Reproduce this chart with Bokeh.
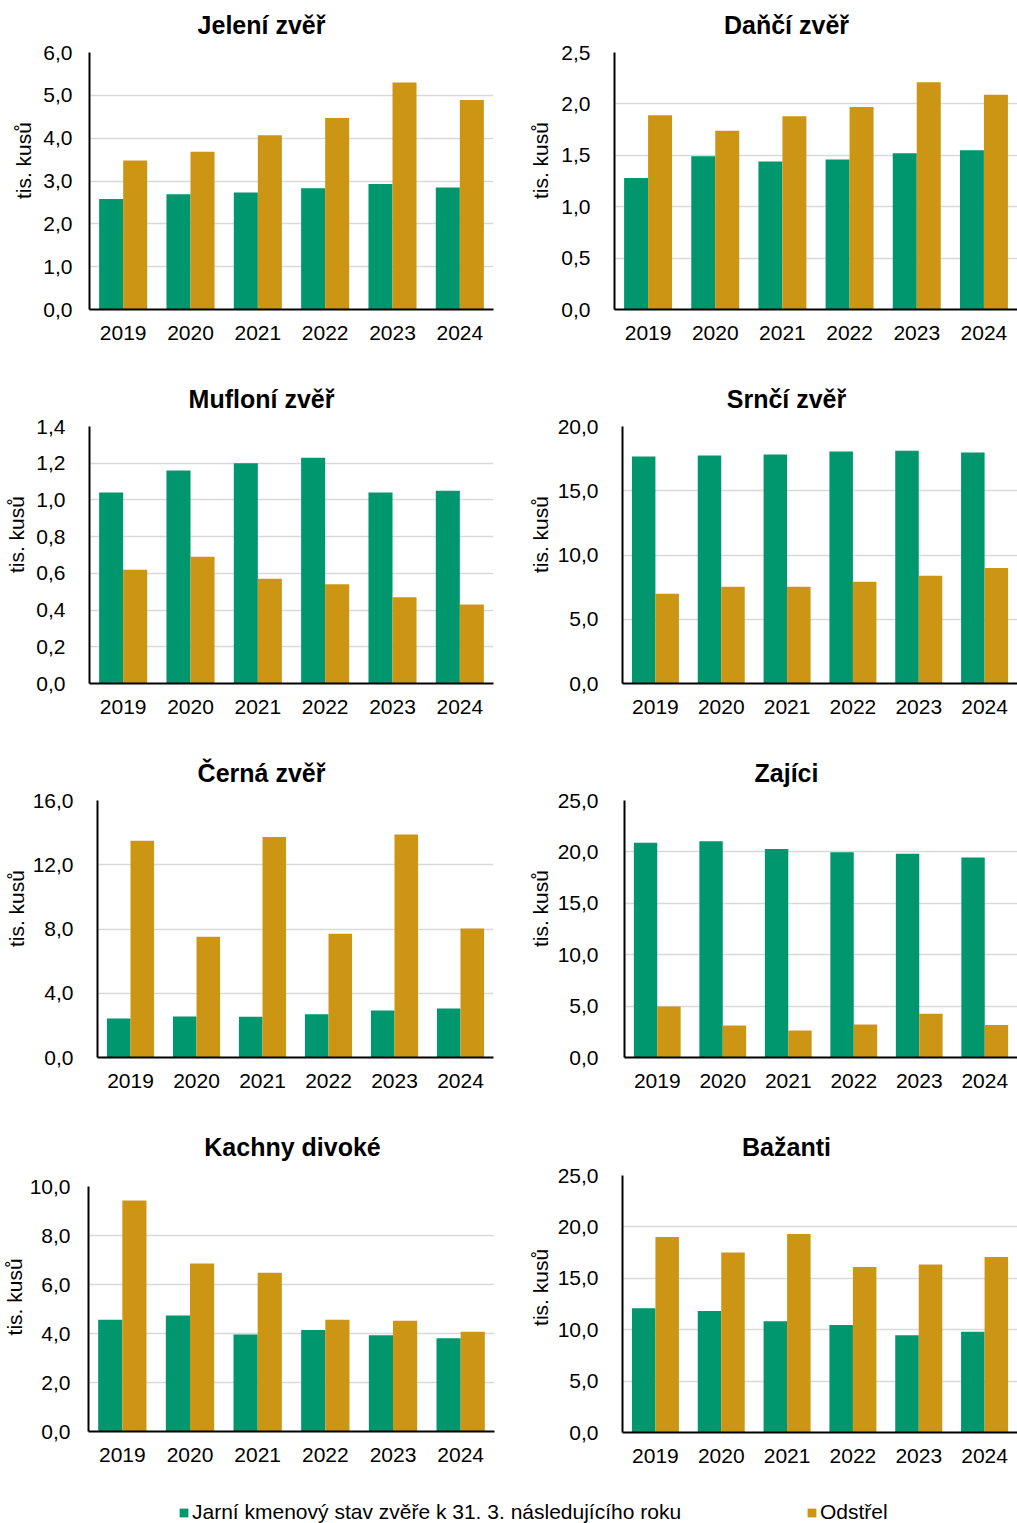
import math
from bokeh.plotting import figure
from bokeh.layouts import column, row
from bokeh.models import (ColumnDataSource, FactorRange, Range1d, FixedTicker,
                          CustomJSTickFormatter, Label, Legend, LegendItem)
from bokeh.transform import dodge
from bokeh.embed import file_html
from bokeh.resources import INLINE

# ---------------- data ----------------
years = ["2019", "2020", "2021", "2022", "2023", "2024"]
series_names = ["Jarní kmenový stav zvěře k 31. 3. následujícího roku", "Odstřel"]
y_title = "tis. kusů"

jeleni_stav = [2.58, 2.69, 2.73, 2.83, 2.93, 2.85]
jeleni_odstrel = [3.48, 3.68, 4.07, 4.47, 5.30, 4.89]
jeleni_ticks = [0, 1, 2, 3, 4, 5, 6]

danci_stav = [1.28, 1.49, 1.44, 1.46, 1.52, 1.55]
danci_odstrel = [1.89, 1.74, 1.88, 1.97, 2.21, 2.09]
danci_ticks = [0, 0.5, 1.0, 1.5, 2.0, 2.5]

mufloni_stav = [1.04, 1.16, 1.20, 1.23, 1.04, 1.05]
mufloni_odstrel = [0.62, 0.69, 0.57, 0.54, 0.47, 0.43]
mufloni_ticks = [0, 0.2, 0.4, 0.6, 0.8, 1.0, 1.2, 1.4]

srnci_stav = [17.67, 17.74, 17.82, 18.05, 18.11, 17.98]
srnci_odstrel = [6.98, 7.52, 7.52, 7.91, 8.38, 8.98]
srnci_ticks = [0, 5, 10, 15, 20]

cerna_stav = [2.43, 2.55, 2.53, 2.70, 2.93, 3.05]
cerna_odstrel = [13.49, 7.51, 13.72, 7.70, 13.88, 8.03]
cerna_ticks = [0, 4, 8, 12, 16]

zajici_stav = [20.88, 21.04, 20.27, 19.97, 19.81, 19.46]
zajici_odstrel = [4.96, 3.11, 2.63, 3.21, 4.25, 3.15]
zajici_ticks = [0, 5, 10, 15, 20, 25]

kachny_stav = [4.56, 4.73, 3.96, 4.14, 3.93, 3.81]
kachny_odstrel = [9.43, 6.86, 6.48, 4.56, 4.52, 4.07]
kachny_ticks = [0, 2, 4, 6, 8, 10]

bazanti_stav = [12.08, 11.82, 10.82, 10.46, 9.46, 9.81]
bazanti_odstrel = [19.01, 17.52, 19.30, 16.09, 16.35, 17.07]
bazanti_ticks = [0, 5, 10, 15, 20, 25]

# ---------------- style ----------------
GREEN = "#00966E"
GOLD = "#CC9514"
FONT = "Liberation Sans"
BAR_W = 0.357
T_H = 40  # height of the title strip

fmt = CustomJSTickFormatter(code="return tick.toFixed(1).replace('.', ',');")


def blank(w, h, x_range=None, y_range=None):
    f = figure(width=w, height=h,
               x_range=x_range if x_range is not None else Range1d(0, w),
               y_range=y_range if y_range is not None else Range1d(0, h),
               toolbar_location=None, output_backend="svg",
               x_axis_location=None, y_axis_location=None,
               min_border_left=0, min_border_right=0, min_border_top=0, min_border_bottom=0)
    f.grid.grid_line_color = None
    f.outline_line_color = None
    return f


def make_cell(title, stav, odstrel, ticks, cell_x, cell_y, cell_w, cell_h, lab_w,
              left, top, bottom, right, tick_standoff, ylab_x, title_x):
    # title strip
    tf = blank(cell_w, T_H)
    tf.add_layout(Label(x=title_x - cell_x, y=16, text=title, text_font=FONT,
                        text_font_size="25px", text_font_style="bold", text_color="black",
                        text_align="center", text_baseline="middle"))
    body_h = cell_h - T_H
    # y-title strip
    yf = blank(lab_w, body_h)
    yf.add_layout(Label(x=ylab_x - cell_x, y=body_h - ((top + bottom) / 2 - cell_y - T_H),
                        text=y_title, angle=math.pi / 2, text_font=FONT,
                        text_font_size="21px", text_color="black",
                        text_align="center", text_baseline="middle"))
    # chart
    cw = cell_w - lab_w
    mb_left = left - cell_x - lab_w
    mb_top = top - cell_y - T_H
    frame_h = bottom - top
    mb_bottom = body_h - mb_top - frame_h
    mb_right = cell_x + cell_w - right
    src = ColumnDataSource(dict(year=years, stav=stav, odstrel=odstrel))
    p = figure(width=cw, height=body_h, x_range=FactorRange(*years),
               y_range=Range1d(ticks[0], ticks[-1]),
               toolbar_location=None, output_backend="svg",
               min_border_left=mb_left, min_border_right=mb_right,
               min_border_top=mb_top, min_border_bottom=mb_bottom)
    p.outline_line_color = None
    p.vbar(x=dodge("year", -BAR_W / 2, range=p.x_range), top="stav", width=BAR_W,
           source=src, fill_color=GREEN, line_color=None)
    p.vbar(x=dodge("year", BAR_W / 2, range=p.x_range), top="odstrel", width=BAR_W,
           source=src, fill_color=GOLD, line_color=None)
    p.xgrid.grid_line_color = None
    p.ygrid.grid_line_color = "#D9D9D9"
    p.ygrid.grid_line_width = 1.5
    p.yaxis.ticker = FixedTicker(ticks=ticks)
    p.yaxis.formatter = fmt
    for ax in (p.xaxis, p.yaxis):
        ax.axis_line_color = "black"
        ax.axis_line_width = 2
        ax.major_tick_line_color = None
        ax.minor_tick_line_color = None
        ax.major_tick_out = 0
        ax.major_tick_in = 0
        ax.minor_tick_out = 0
        ax.minor_tick_in = 0
        ax.major_label_text_font = FONT
        ax.major_label_text_font_size = "21px"
        ax.major_label_text_color = "black"
    p.yaxis.major_label_standoff = tick_standoff
    p.xaxis.major_label_standoff = 16
    return column(tf, row(yf, p))


LX, LW = 0, 505
RX, RW = 505, 512
R1, R2, R3, R4 = 0, 374, 748, 1122
H, H4 = 374, 365

c1 = make_cell("Jelení zvěř", jeleni_stav, jeleni_odstrel, jeleni_ticks, LX, R1, LW, H, 36,
               89, 52, 309, 493, 17, 23, 261)
c2 = make_cell("Daňčí zvěř", danci_stav, danci_odstrel, danci_ticks, RX, R1, RW, H, 48,
               614, 52, 309, 1017, 24, 540, 786)
c3 = make_cell("Mufloní zvěř", mufloni_stav, mufloni_odstrel, mufloni_ticks, LX, R2, LW, H, 30,
               89, 426, 683, 493, 24, 16, 261)
c4 = make_cell("Srnčí zvěř", srnci_stav, srnci_odstrel, srnci_ticks, RX, R2, RW, H, 48,
               622, 426, 683, 1017, 24, 540, 786)
c5 = make_cell("Černá zvěř", cerna_stav, cerna_odstrel, cerna_ticks, LX, R3, LW, H, 28,
               97, 800, 1057, 493, 24, 16, 261)
c6 = make_cell("Zajíci", zajici_stav, zajici_odstrel, zajici_ticks, RX, R3, RW, H, 48,
               624, 800, 1057, 1017, 26, 540, 786)
c7 = make_cell("Kachny divoké", kachny_stav, kachny_odstrel, kachny_ticks, LX, R4, LW, H4, 25,
               88, 1186, 1431, 494, 18, 14, 292)
c8 = make_cell("Bažanti", bazanti_stav, bazanti_odstrel, bazanti_ticks, RX, R4, RW, H4, 48,
               622, 1175, 1432, 1017, 24, 540, 786)

# ---------------- legend ----------------
# The legend strip holds the two series as bars kept out of its visible y range,
# so only their legend swatches show.
LEG_H = 1523 - (R4 + H4)
lf = blank(1017, LEG_H, x_range=FactorRange(*years), y_range=Range1d(1000, 1001))
leg_src = ColumnDataSource(dict(year=years, stav=kachny_stav, odstrel=kachny_odstrel))
r_g = lf.vbar(x="year", top="stav", width=0.3, source=leg_src, fill_color=GREEN, line_color=None)
r_o = lf.vbar(x="year", top="odstrel", width=0.3, source=leg_src, fill_color=GOLD, line_color=None)
for rend, name, lx in ((r_g, series_names[0], 178), (r_o, series_names[1], 806)):
    leg = Legend(items=[LegendItem(label=name, renderers=[rend])], location=(lx, -1),
                 glyph_width=11, glyph_height=11, label_standoff=3, padding=0, margin=0,
                 border_line_color=None, background_fill_alpha=0,
                 label_text_baseline="alphabetic",
                 label_text_font=FONT, label_text_font_size="21px", label_text_color="black")
    lf.add_layout(leg)

layout = column(row(c1, c2), row(c3, c4), row(c5, c6), row(c7, c8), lf)

with open("out.html", "w") as fh:
    fh.write(file_html(layout, INLINE))
